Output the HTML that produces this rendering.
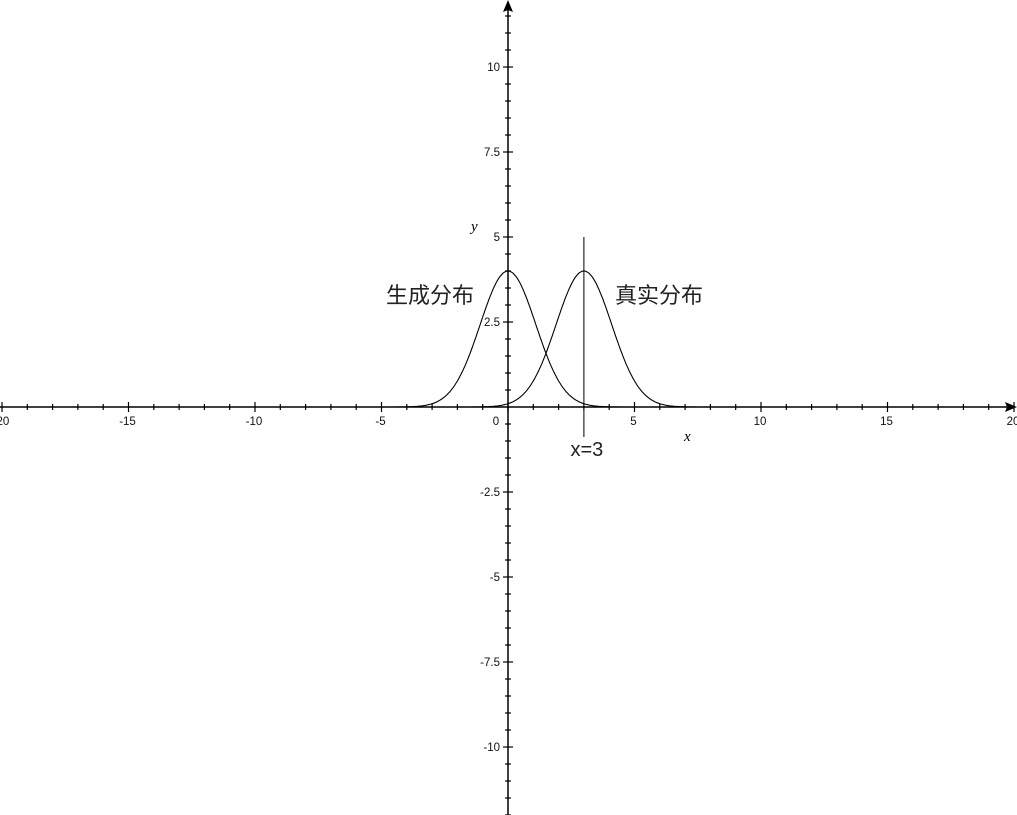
<!DOCTYPE html>
<html><head><meta charset="utf-8"><style>
html,body{margin:0;padding:0;background:#fff;}
svg{display:block;}
</style></head><body>
<svg id="chart" width="1017" height="815" style="font-family:'Liberation Sans',sans-serif"></svg>
<script>
const curveNames=['generated-distribution','real-distribution'];
const curveMeans=[0,3];
const curveSigmas=[1.1,1.1];
const curvePeaks=[4,4];
const xTickValues=[-20,-15,-10,-5,0,5,10,15,20];
const yTickValues=[-10,-7.5,-5,-2.5,2.5,5,7.5,10];
const markerX=[3];

const NS='http://www.w3.org/2000/svg';
const svg=document.getElementById('chart');
const X0=508,Y0=407,SX=25.3,SY=34;
const sx=v=>X0+v*SX, sy=v=>Y0-v*SY;
function el(tag,attrs,parent){const e=document.createElementNS(NS,tag);for(const k in attrs)e.setAttribute(k,attrs[k]);(parent||svg).appendChild(e);return e;}

const xAxis=el('line',{x1:0,y1:Y0,x2:1012,y2:Y0,stroke:'#000','stroke-width':1.5});


const yAxis=el('line',{x1:X0,y1:5,x2:X0,y2:815,stroke:'#000','stroke-width':1.5});


const xArrow=el('path',{d:`M1017 ${Y0} L1005 ${Y0-5} L1007 ${Y0} L1005 ${Y0+5} Z`,fill:'#000'});


const yArrow=el('path',{d:`M${X0} 0 L${X0-5} 12 L${X0} 10 L${X0+5} 12 Z`,fill:'#000'});



for(let v=-20;v<=20;v++){const x=sx(v);const major=v%5===0;
  const t=el('line',{x1:x,y1:Y0-(major?5:3),x2:x,y2:Y0+(major?5:3),stroke:'#000','stroke-width':1.2});
  
  }
for(let v=-12;v<=12;v+=0.5){if(v===0)continue;const y=sy(v);const major=Math.abs(v%2.5)<1e-9;
  const t=el('line',{x1:X0-(major?5:3),y1:y,x2:X0+(major?5:3),y2:y,stroke:'#000','stroke-width':1.2});
  
  }
xTickValues.forEach(v=>{const t=el('text',{x:sx(v)+(v===0?-12:-1),y:Y0+18,'font-size':11.5,'text-anchor':'middle',fill:'#111'});t.textContent=String(v);
  
  });
yTickValues.forEach(v=>{const t=el('text',{x:X0-8,y:sy(v)+4,'font-size':11.5,'text-anchor':'end',fill:'#111'});t.textContent=String(v);
  
  });
const xl=el('text',{x:684,y:441,'font-size':15,'font-style':'italic',style:"font-family:'Liberation Serif',serif"});xl.textContent='x';


const yl=el('text',{x:471,y:231,'font-size':15,'font-style':'italic',style:"font-family:'Liberation Serif',serif"});yl.textContent='y';



curveMeans.forEach((m,i)=>{let d='';for(let v=-20;v<=20;v+=0.05){const y=curvePeaks[i]*Math.exp(-(v-m)*(v-m)/(2*curveSigmas[i]*curveSigmas[i]));d+=(d?'L':'M')+sx(v).toFixed(1)+' '+sy(y).toFixed(1);}
  const p=el('path',{d:d,fill:'none',stroke:'#000','stroke-width':1.1});
  
  });

markerX.forEach(v=>{const l=el('line',{x1:sx(v),y1:sy(5),x2:sx(v),y2:437,stroke:'#000','stroke-width':1});
  
  
  const t=el('text',{x:sx(v)+3,y:456,'font-size':20,'text-anchor':'middle',fill:'#222'});t.textContent='x='+v;
  
  });

const a=el('text',{x:386,y:303,'font-size':22,fill:'#222',style:"font-family:'Liberation Sans','Noto Sans CJK SC',sans-serif"});a.textContent='生成分布';


const b=el('text',{x:615,y:303,'font-size':22,fill:'#222',style:"font-family:'Liberation Sans','Noto Sans CJK SC',sans-serif"});b.textContent='真实分布';


</script>
</body></html>
